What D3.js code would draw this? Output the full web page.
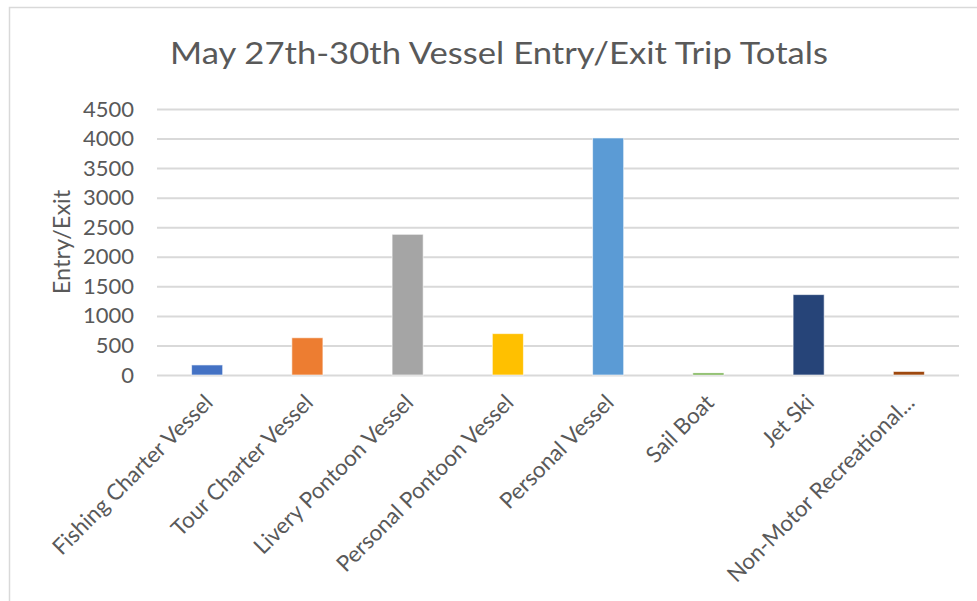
<!DOCTYPE html>
<html><head><meta charset="utf-8">
<script src="https://cdn.jsdelivr.net/npm/d3@7"></script>
<style>html,body{margin:0;padding:0;background:#fff;overflow:hidden}</style>
</head><body>
<svg id="c" width="977" height="601"></svg>
<script>
const categories = ["Fishing Charter Vessel","Tour Charter Vessel","Livery Pontoon Vessel","Personal Pontoon Vessel","Personal Vessel","Sail Boat","Jet Ski","Non-Motor Recreational..."];
const values = [170, 630, 2380, 700, 4010, 35, 1360, 60];
const colors = ["#4472C4","#ED7D31","#A5A5A5","#FFC000","#5B9BD5","#70AD47","#264478","#9E480E"];
const yTicks = [0,500,1000,1500,2000,2500,3000,3500,4000,4500];
const title = "May 27th-30th Vessel Entry/Exit Trip Totals";
const yTitle = "Entry/Exit";

const svg = d3.select("#c");
const font = "Lato, 'Open Sans', sans-serif";
const textColor = "#595959";
const pL = 157, pR = 959, pT = 109, pB = 375;

// outer border
svg.append("rect").attr("x",9.5).attr("y",7.5).attr("width",1100).attr("height",800)
  .attr("fill","none").attr("stroke","#d9d9d9").attr("stroke-width",1.5);

const x = d3.scaleBand().domain(categories).range([pL,pR]).paddingInner(0.69).paddingOuter(0.345);
const y = d3.scaleLinear().domain([0,4500]).range([pB,pT]);

// gridlines via axis
const gy = svg.append("g").attr("transform",`translate(${pL},0)`)
  .call(d3.axisLeft(y).tickValues(yTicks).tickSize(-(pR-pL)).tickFormat(""));
gy.select(".domain").remove();
gy.selectAll(".tick line").attr("stroke","#d9d9d9").attr("stroke-width",2);

// y tick labels
const gyl = svg.append("g").attr("transform",`translate(${pL},0)`)
  .call(d3.axisLeft(y).tickValues(yTicks).tickSize(0).tickPadding(23).tickFormat(d3.format("d")));
gyl.select(".domain").remove();
gyl.selectAll("text").attr("font-family",font).attr("font-size",22).attr("fill",textColor);

// bars
svg.append("g").selectAll("rect").data(values).join("rect")
  .attr("x",(d,i)=>x(categories[i]))
  .attr("y",d=>y(d))
  .attr("width",x.bandwidth())
  .attr("height",d=>y(0)-y(d))
  .attr("fill",(d,i)=>colors[i])
  .attr("stroke","#fff").attr("stroke-opacity",0.6).attr("stroke-width",1);

// x labels
svg.append("g").selectAll("text").data(categories).join("text")
  .attr("transform",d=>`translate(${x(d)+x.bandwidth()/2+7},${pB+29}) rotate(-45)`)
  .attr("text-anchor","end")
  .attr("font-family",font).attr("font-size",22.3).attr("fill",textColor)
  .text(d=>d);

// title
svg.append("text").attr("x",499).attr("y",64).attr("text-anchor","middle")
  .attr("font-family",font).attr("font-size",30).attr("fill",textColor)
  .attr("textLength",658).attr("lengthAdjust","spacingAndGlyphs")
  .text(title);

// y title
svg.append("text").attr("transform","translate(70,242) rotate(-90)").attr("text-anchor","middle")
  .attr("font-family",font).attr("font-size",23.5).attr("fill",textColor)
  .text(yTitle);
</script>
</body></html>
